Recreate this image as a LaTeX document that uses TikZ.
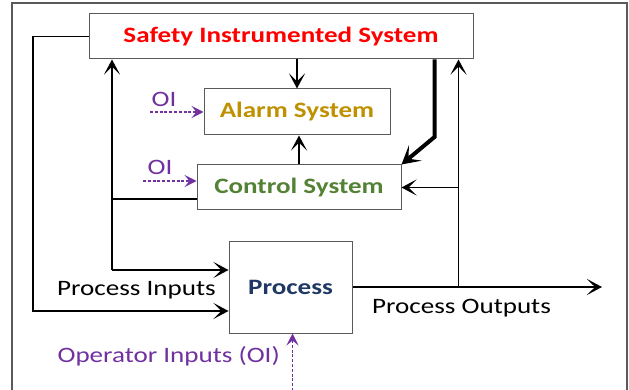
\documentclass[tikz,border=0pt]{standalone}
\usepackage{fontspec}
\setmainfont{Carlito}[FakeStretch=1.23]
\usetikzlibrary{arrows.meta}
\definecolor{sisred}{RGB}{255,0,0}
\definecolor{alarmgold}{RGB}{191,144,0}
\definecolor{ctrlgreen}{RGB}{84,130,53}
\definecolor{procblue}{RGB}{31,56,100}
\definecolor{oipurple}{RGB}{112,48,160}
\definecolor{boxgray}{RGB}{90,90,90}
\tikzset{
  blk/.style={draw=boxgray, line width=1pt, fill=white, inner sep=0pt, font=\fontsize{22}{26}\selectfont\bfseries},
  conn/.style={line width=1.6pt, draw=black},
  arr/.style={conn, -{Stealth[length=15pt,width=16pt,inset=8pt]}},
  thickarr/.style={line width=4pt, -{Stealth[length=18pt,width=20pt,inset=9pt]}},
  oiarr/.style={draw=oipurple, line width=1.3pt, dash pattern=on 3pt off 1.8pt, -{Stealth[length=12pt,width=12pt,inset=5pt]}},
  lbl/.style={font=\fontsize{22}{26}\selectfont, inner sep=0pt},
  oilbl/.style={lbl, text=oipurple}
}
\begin{document}
\begin{tikzpicture}[x=1pt,y=-1pt]
\useasboundingbox (0,0) rectangle (629,390);
% outer frame
\draw[boxgray, line width=1.2pt] (12,391) -- (12,3) -- (627,3) -- (627,391);
% boxes
\node[blk, minimum width=384pt, minimum height=45pt, text=sisred] (sis) at (281,36.5) {Safety Instrumented System};
\node[blk, minimum width=186pt, minimum height=46pt, text=alarmgold] (alarm) at (297,112) {Alarm System};
\node[blk, minimum width=204pt, minimum height=45pt, text=ctrlgreen] (ctrl) at (299,187.5) {Control System};
\node[blk, minimum width=123pt, minimum height=92pt, text=procblue] (proc) at (290.5,287) {\raisebox{-4pt}{Process}};
% coordinates
\coordinate (lt) at (33,36.5);
\coordinate (lb) at (33,311);
\coordinate (mi) at (112,270);
\coordinate (cm) at (112,199);
\coordinate (cl) at (197,199);
\coordinate (tk) at (434.5,137);
\coordinate (ro) at (458.5,287);
\coordinate (rc) at (458.5,187.5);
\coordinate (out) at (602,287);
\coordinate (oa) at (150,112);
\coordinate (oc) at (143,181);
\coordinate (op) at (292.5,391);
% connectors
\draw[arr] (sis.west) -- (lt) -- (lb) -- (proc.west |- lb);
\draw[arr] (mi) -- (mi |- sis.south);
\draw[arr] (mi) -- (proc.west |- mi);
\draw[conn] (cl) -- (cm);
\draw[arr] (alarm.north |- sis.south) -- (alarm.north);
\draw[arr] (ctrl.north) -- (ctrl.north |- alarm.south);
\draw[thickarr] (tk |- sis.south) -- (tk) -- (ctrl.north east);
\draw[arr] (ro) -- (ro |- sis.south);
\draw[arr] (rc) -- (ctrl.east);
\draw[arr] (proc.east) -- (out);
\draw[oiarr] (oa) -- (alarm.west);
\draw[oiarr] (oc) -- (ctrl.west |- oc);
\draw[oiarr] (op) -- (proc.south -| op);
% labels
\node[oilbl] (oi1) at (164,99) {OI};
\node[oilbl] (oi2) at (160,167) {OI};
\node[lbl, anchor=west] (pin) at (57,290) {Process Inputs};
\node[lbl, anchor=west] (pout) at (372,308) {Process Outputs};
\node[oilbl, anchor=east] (opl) at (280,356) {Operator Inputs (OI)};
\end{tikzpicture}
\end{document}
